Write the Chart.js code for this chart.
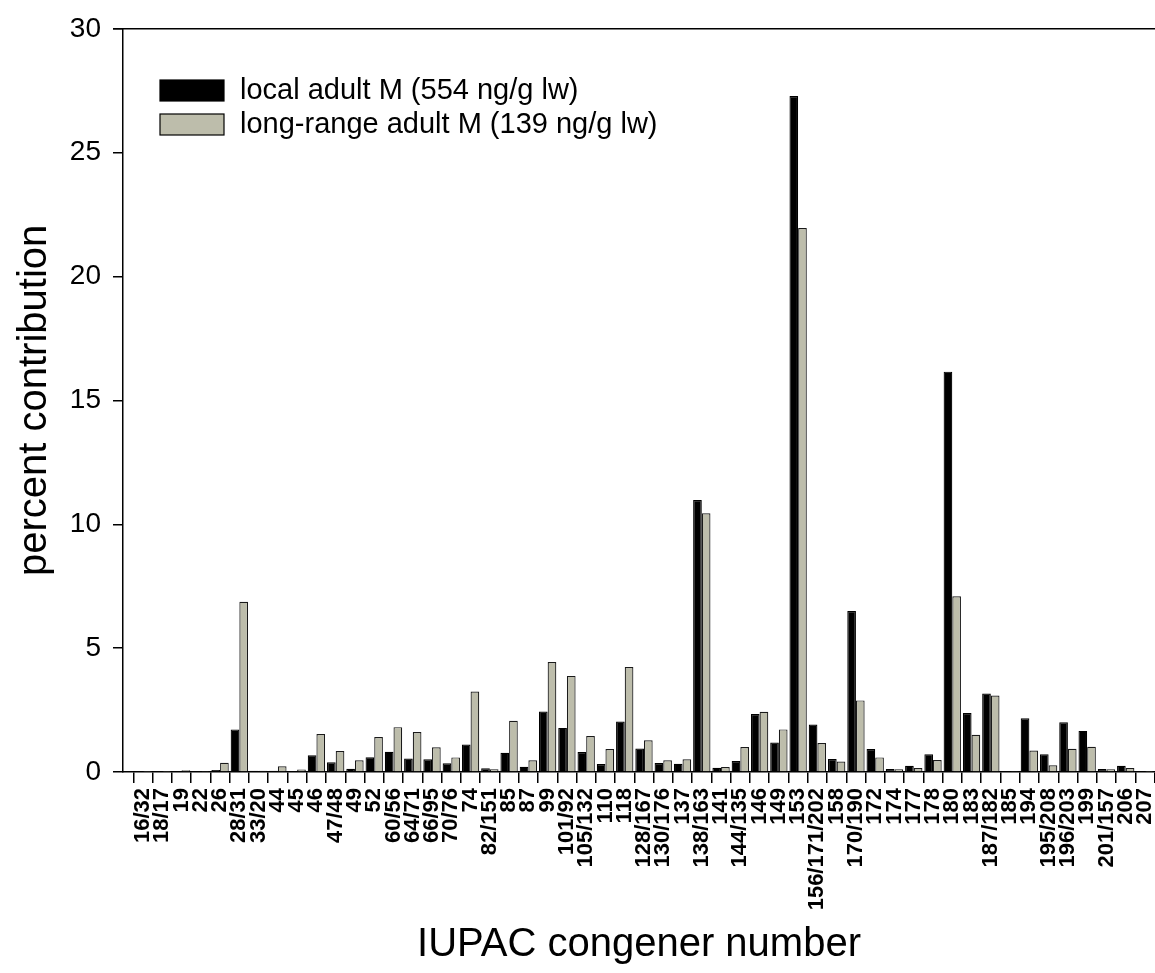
<!DOCTYPE html>
<html>
<head>
<meta charset="utf-8">
<title>PCB congener profile</title>
<script src="https://cdn.jsdelivr.net/npm/chart.js@4.4.1/dist/chart.umd.min.js"></script>
<style>
  html, body { margin: 0; padding: 0; background: #fff; }
  #wrap { width: 1155px; height: 973px; }
</style>
</head>
<body>
<div id="wrap"><canvas id="congenerChart"></canvas></div>
<script>
// IUPAC congener numbers along the x axis
const congeners = [
  '16/32', '18/17', '19', '22', '26', '28/31', '33/20', '44', '45', '46',
  '47/48', '49', '52', '60/56', '64/71', '66/95', '70/76', '74', '82/151', '85',
  '87', '99', '101/92', '105/132', '110', '118', '128/167', '130/176', '137', '138/163',
  '141', '144/135', '146', '149', '153', '156/171/202', '158', '170/190', '172', '174',
  '177', '178', '180', '183', '187/182', '185', '194', '195/208', '196/203', '199',
  '201/157', '206', '207'
];

// percent contribution, local adult males
const localAdultM = [
  0.02, 0.02, 0.03, 0.01, 0.08, 1.72, 0.05, 0.05, 0.03, 0.68,
  0.39, 0.13, 0.60, 0.82, 0.54, 0.51, 0.35, 1.11, 0.15, 0.78,
  0.21, 2.44, 1.78, 0.81, 0.32, 2.04, 0.95, 0.36, 0.33, 10.98,
  0.17, 0.44, 2.34, 1.19, 27.29, 1.92, 0.52, 6.50, 0.93, 0.12,
  0.25, 0.72, 16.16, 2.38, 3.17, 0.02, 2.17, 0.72, 2.01, 1.66,
  0.12, 0.25, 0.01
];

// percent contribution, long-range adult males
const longRangeAdultM = [
  0.01, 0.01, 0.07, 0.02, 0.37, 6.87, 0.05, 0.23, 0.10, 1.53,
  0.85, 0.47, 1.41, 1.81, 1.61, 1.00, 0.59, 3.25, 0.11, 2.07,
  0.47, 4.44, 3.88, 1.45, 0.93, 4.24, 1.28, 0.47, 0.51, 10.44,
  0.20, 1.01, 2.43, 1.72, 21.96, 1.17, 0.42, 2.89, 0.59, 0.11,
  0.16, 0.48, 7.09, 1.50, 3.09, 0.02, 0.87, 0.27, 0.94, 1.02,
  0.11, 0.16, 0.01
];

const yTicks = [0, 5, 10, 15, 20, 25, 30];

const FONT = '"Liberation Sans", Arial, Helvetica, sans-serif';

const toPoints = (vals) => vals.map((v, i) => ({ x: i, y: v }));

// legend box drawn inside the plot, plus the frame line along the top
const insideLegend = {
  id: 'insideLegend',
  afterDraw(chart) {
    const { ctx, chartArea } = chart;
    ctx.save();
    ctx.strokeStyle = '#000';
    ctx.lineWidth = 1.5;
    ctx.beginPath();
    ctx.moveTo(chartArea.left - 10, chartArea.top);
    ctx.lineTo(chartArea.right, chartArea.top);
    ctx.stroke();

    ctx.font = '29px ' + FONT;
    ctx.textBaseline = 'middle';
    ctx.textAlign = 'left';
    chart.data.datasets.forEach((ds, i) => {
      const x = 160, y = 80 + i * 34;
      ctx.fillStyle = ds.backgroundColor;
      ctx.fillRect(x, y, 64, 21);
      ctx.lineWidth = 1.2;
      ctx.strokeStyle = '#000';
      ctx.strokeRect(x, y, 64, 21);
      ctx.fillStyle = '#000';
      ctx.fillText(ds.label, 240, y + 11);
    });
    ctx.restore();
  }
};

const congenerConfig = {
  type: 'bar',
  data: {
    datasets: [
      {
        label: 'local adult M (554 ng/g lw)',
        data: toPoints(localAdultM),
        backgroundColor: '#000000',
        borderColor: '#000000',
        borderWidth: 1.2
      },
      {
        label: 'long-range adult M (139 ng/g lw)',
        data: toPoints(longRangeAdultM),
        backgroundColor: '#bdbdab',
        borderColor: '#1a1a1a',
        borderWidth: 1.2
      }
    ]
  },
  options: {
    responsive: true,
    maintainAspectRatio: false,
    animation: false,
    categoryPercentage: 0.9,
    barPercentage: 1.0,
    layout: { padding: { top: 27, right: 0, bottom: 0, left: 0 } },
    plugins: {
      legend: { display: false },
      tooltip: { enabled: false }
    },
    scales: {
      x: {
        type: 'linear',
        offset: false,
        min: -1.038,
        max: 52.52,
        afterBuildTicks: (scale) => {
          scale.ticks = congeners.map((c, i) => ({ value: i }));
        },
        afterFit: (scale) => {
          scale.height = 201;
          scale.paddingLeft = 0;
          scale.paddingRight = 0;
        },
        border: { display: true, color: '#000', width: 1.5 },
        grid: {
          display: true,
          drawOnChartArea: false,
          drawTicks: true,
          tickLength: 11,
          color: '#000',
          lineWidth: 1.5
        },
        ticks: {
          autoSkip: false,
          minRotation: 90,
          maxRotation: 90,
          padding: 5,
          color: '#000',
          font: { family: FONT, size: 22, weight: 'bold' },
          callback: (value) => congeners[value]
        },
        title: {
          display: true,
          text: 'IUPAC congener number',
          color: '#000',
          font: { family: FONT, size: 40 },
          padding: { top: 0, bottom: 4 }
        }
      },
      y: {
        min: 0,
        max: 30,
        afterBuildTicks: (scale) => {
          scale.ticks = yTicks.map((v) => ({ value: v }));
        },
        afterFit: (scale) => {
          scale.width = 123;
        },
        border: { display: true, color: '#000', width: 1.5 },
        grid: {
          display: true,
          drawOnChartArea: false,
          drawTicks: true,
          tickLength: 10,
          color: '#000',
          lineWidth: 1.5
        },
        ticks: {
          padding: 12,
          color: '#000',
          font: { family: FONT, size: 28 }
        },
        title: {
          display: true,
          text: 'percent contribution',
          color: '#000',
          font: { family: FONT, size: 40 },
          padding: { top: 11, bottom: 0 }
        }
      }
    }
  },
  plugins: [insideLegend]
};

const congenerChart = new Chart(
  document.getElementById('congenerChart'),
  congenerConfig
);
</script>
</body>
</html>
